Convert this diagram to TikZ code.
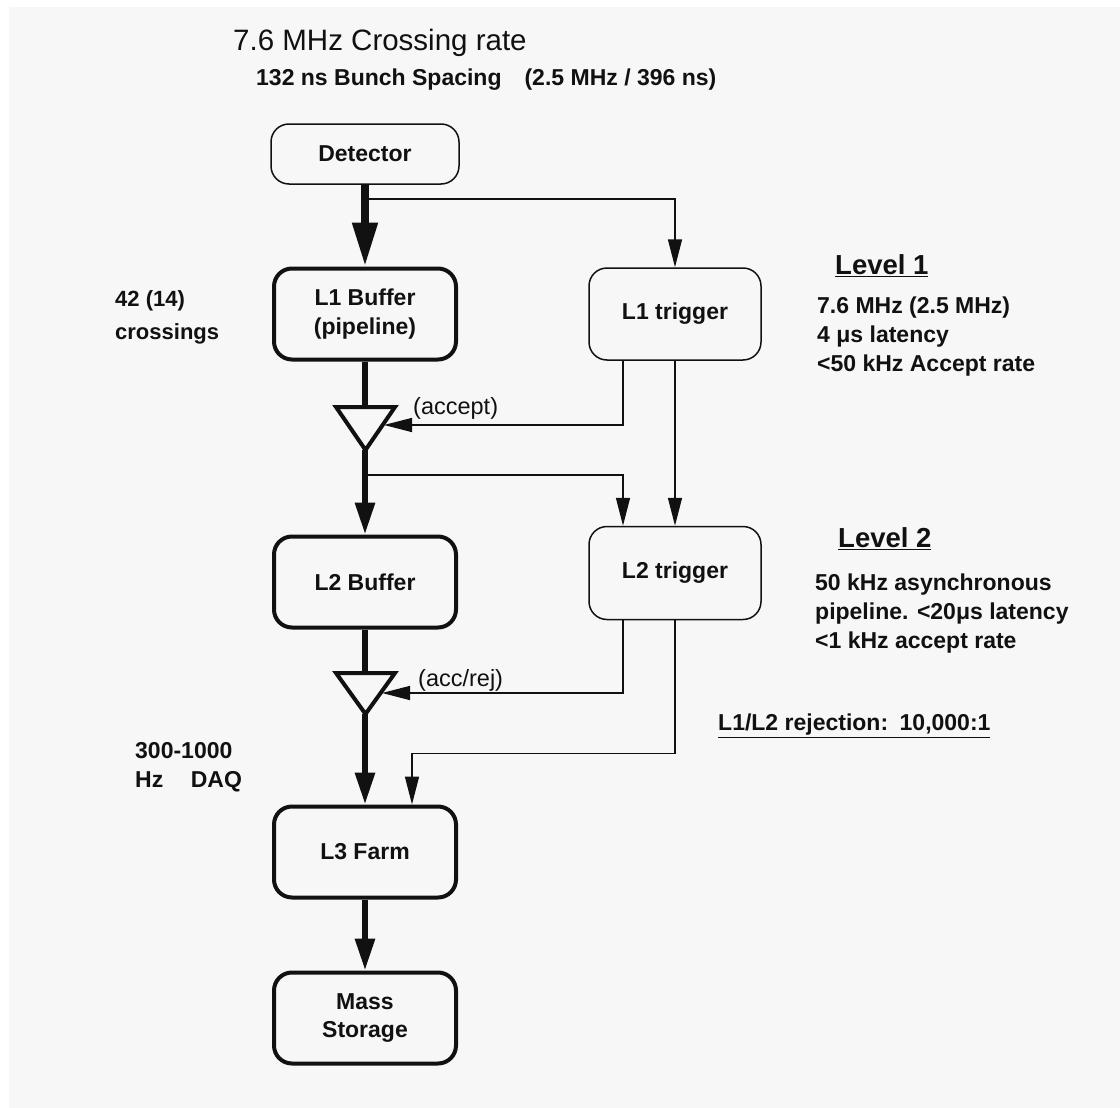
\documentclass[tikz,border=0pt]{standalone}
\usepackage{fontspec}
\setmainfont{Liberation Sans}
\usetikzlibrary{arrows.meta}
\definecolor{bg}{HTML}{F7F7F7}
\definecolor{ink}{HTML}{111111}
\newcommand\fnttitle{\fontsize{29.5}{34}\selectfont}
\newcommand\fntsub{\fontsize{23}{27}\selectfont\bfseries}
\newcommand\fntbox{\fontsize{23}{28.5}\selectfont\bfseries}
\newcommand\fntlevel{\fontsize{27.5}{32}\selectfont\bfseries}
\newcommand\fntnote{\fontsize{23}{29}\selectfont\bfseries}
\newcommand\fntsig{\fontsize{23.5}{27}\selectfont}
\begin{document}
\begin{tikzpicture}[x=1pt,y=-1pt,
  box/.style={draw=ink, rounded corners=18pt, align=center, font=\fntbox, inner sep=0pt, text=ink},
  thickbox/.style={box, line width=4pt, minimum width=182pt, minimum height=91pt},
  thinbox/.style={box, line width=1.5pt},
  flow/.style={draw=ink, line width=6pt},
  bigflow/.style={flow, -{Triangle[length=32pt,width=19pt]}},
  sig/.style={draw=ink, line width=1.5pt, -{Triangle[length=28pt,width=14pt]}},
  gate/.style={draw=ink, line width=4pt, line join=miter},
  note/.style={anchor=west, font=\fntnote, align=left, inner sep=0pt, text=ink},
  level/.style={anchor=west, font=\fntlevel, inner sep=0pt, text=ink}]
\useasboundingbox (0,0) rectangle (1120,1108);
\fill[white] (0,0) rectangle (1120,1108);
\fill[bg] (9,7) rectangle (1120,1108);

% headings
\node[anchor=west, font=\fnttitle, inner sep=0pt, text=ink] (title) at (233,43) {7.6 MHz Crossing rate};
\node[anchor=west, font=\fntsub, inner sep=0pt, text=ink] (sub) at (256,80) {132 ns Bunch Spacing\hspace{1em}(2.5 MHz / 396 ns)};

% boxes
\node[thinbox, minimum width=188pt, minimum height=60pt] (det) at (365,154) {Detector};
\node[thickbox] (L1b) at (365,314) {L1 Buffer\\(pipeline)};
\node[thinbox, minimum width=172pt, minimum height=92pt] (L1t) at (675,314) {L1 trigger};
\node[thickbox] (L2b) at (365,582) {L2 Buffer};
\node[thinbox, minimum width=172pt, minimum height=93pt] (L2t) at (675,573) {L2 trigger};
\node[thickbox] (L3) at (365,852) {L3 Farm};
\node[thickbox] (ms) at (365,1018) {Mass\\Storage};

% gates
\draw[gate] (336,407) -- (395,407) -- (365.5,450) -- cycle;
\draw[gate] (336,673) -- (395,673) -- (365.5,714) -- cycle;
\coordinate (g1top) at (365,407);
\coordinate (g1bot) at (365,450);
\coordinate (g1r) at (384,425);
\coordinate (g2top) at (365,673);
\coordinate (g2bot) at (365,714);
\coordinate (g2r) at (382,693);
\coordinate (b1) at (365,199);
\coordinate (b2) at (365,475);

% data flow
\draw[flow, line width=8pt, -{Triangle[length=44pt,width=24pt]}] (det.south) -- (L1b.north);
\draw[flow] (L1b.south) -- (g1top);
\draw[bigflow] (g1bot) -- (L2b.north);
\draw[flow] (L2b.south) -- (g2top);
\draw[bigflow] (g2bot) -- (L3.north);
\draw[bigflow] (L3.south) -- (ms.north);

% trigger signals
\draw[sig] (b1) -| (L1t.north);
\draw[sig] ([xshift=-52pt]L1t.south) |- (g1r);
\draw[sig] (L1t.south) -- (L2t.north);
\draw[sig] (b2) -| ([xshift=-52pt]L2t.north);
\draw[sig] ([xshift=-52pt]L2t.south) |- (g2r);
\draw[sig] (L2t.south) -- ++(0,133) -| ([xshift=47pt]L3.north);

\node[anchor=west, font=\fntsig, inner sep=0pt, text=ink] (acc) at (413,408) {(accept)};
\node[anchor=west, font=\fntsig, inner sep=0pt, text=ink] (accrej) at (418,680) {(acc/rej)};

% side notes
\node[note, font=\fontsize{22}{33}\selectfont\bfseries] (cross) at (115,317) {42 (14)\\crossings};
\node[level] (lev1) at (835,266) {\underline{Level 1}};
\node[note] (l1txt) at (817,337) {7.6 MHz (2.5 MHz)\\4 μs latency\\<50 kHz Accept rate};
\node[level] (lev2) at (838,539) {\underline{Level 2}};
\node[note] (l2txt) at (815,614) {50 kHz asynchronous\\pipeline. <20μs latency\\<1 kHz accept rate};
\node[note] (rej) at (718,726) {\underline{L1/L2 rejection:\hspace{0.5em}10,000:1}};
\node[note] (daq) at (135,767) {300-1000\\Hz\hspace{1.2em}DAQ};
\end{tikzpicture}
\end{document}
